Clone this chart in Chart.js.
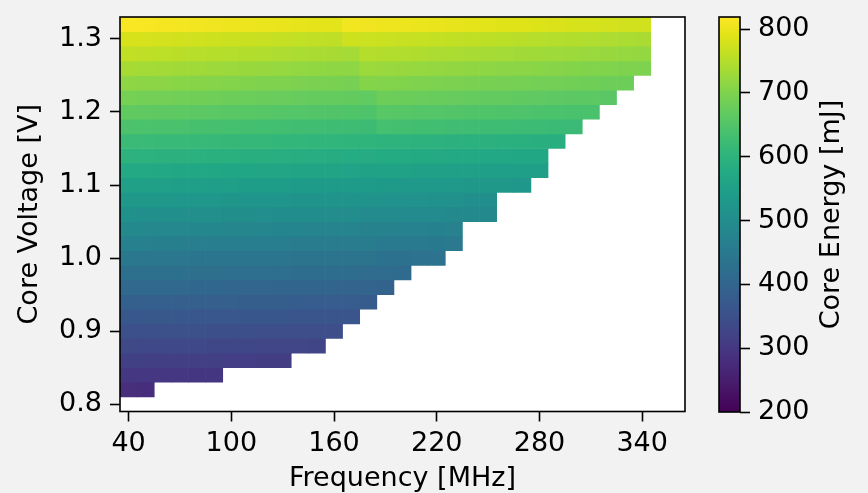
<!doctype html>
<html lang="en">
<head>
  <meta charset="utf-8">
  <title>Core Energy map</title>
  <script src="https://cdn.jsdelivr.net/npm/chart.js@4/dist/chart.umd.min.js"></script>
  <style>
    html, body { margin: 0; padding: 0; overflow: hidden; background: #f2f2f2; }
    #wrap { position: relative; width: 868px; height: 493px; overflow: hidden; }
    #heat { position: absolute; left: 0; top: 0; }
    #cbar { position: absolute; left: 700px; top: 0; }
  </style>
</head>
<body>
<div id="wrap">
  <canvas id="heat" width="700" height="500"></canvas>
  <canvas id="cbar" width="168" height="493"></canvas>
</div>

<script>
  // columns (MHz) and rows (V) of the measurement grid
  const frequencies = [40, 50, 60, 70, 80, 90, 100, 110, 120, 130, 140, 150, 160, 170, 180, 190, 200,
    210, 220, 230, 240, 250, 260, 270, 280, 290, 300, 310, 320, 330, 340, 350, 360]
  const voltages = [0.82, 0.84, 0.86, 0.88, 0.90, 0.92, 0.94, 0.96, 0.98, 1.00, 1.02, 1.04, 1.06,
    1.08, 1.10, 1.12, 1.14, 1.16, 1.18, 1.20, 1.22, 1.24, 1.26, 1.28, 1.30, 1.32]

  // core energy [mJ] per voltage row, starting at 40 MHz (missing = not stable)
  const e082 = [283, 282]
  const e084 = [299, 299, 298, 298, 297, 297]
  const e086 = [316, 316, 315, 315, 314, 314, 313, 313, 312, 312]
  const e088 = [334, 333, 333, 332, 332, 331, 330, 330, 329, 329, 328, 327]
  const e090 = [352, 351, 351, 350, 350, 349, 348, 348, 347, 347, 346, 345, 345]
  const e092 = [370, 369, 369, 368, 367, 367, 366, 365, 364, 364, 363, 362, 362, 361]
  const e094 = [389, 388, 388, 387, 386, 386, 385, 384, 383, 383, 382, 381, 381, 380, 379]
  const e096 = [408, 407, 406, 406, 405, 404, 403, 402, 402, 401, 400, 399, 398, 398, 397, 396]
  const e098 = [428, 427, 426, 426, 425, 424, 423, 422, 422, 421, 420, 419, 418, 418, 417, 416, 415]
  const e100 = [447, 446, 445, 444, 443, 442, 442, 441, 440, 439, 438, 437, 436, 435, 434, 433, 433, 432, 431]
  const e102 = [467, 466, 465, 464, 463, 462, 462, 461, 460, 459, 458, 457, 456, 455, 454, 453, 453, 452, 451, 450]
  const e104 = [488, 487, 486, 485, 484, 483, 482, 481, 480, 479, 478, 477, 476, 475, 474, 473, 472, 471, 470, 469]
  const e106 = [509, 508, 507, 506, 505, 504, 503, 502, 501, 500, 499, 498, 497, 496, 495, 494, 493, 492, 491, 490, 489, 488]
  const e108 = [530, 529, 528, 527, 526, 525, 523, 522, 521, 520, 519, 518, 517, 516, 515, 514, 512, 511, 510, 509, 508, 507]
  const e110 = [552, 551, 550, 549, 548, 547, 545, 544, 543, 542, 541, 540, 539, 538, 537, 536, 534, 533, 532, 531, 530, 529, 528, 527]
  const e112 = [574, 573, 572, 570, 569, 568, 567, 566, 564, 563, 562, 561, 560, 558, 557, 556, 555, 554, 552, 551, 550, 549, 548, 546, 545]
  const e114 = [597, 596, 595, 593, 592, 591, 590, 589, 587, 586, 585, 584, 583, 581, 580, 579, 578, 577, 575, 574, 573, 572, 571, 569, 568]
  const e116 = [620, 619, 617, 616, 615, 614, 612, 611, 610, 608, 607, 606, 604, 603, 602, 601, 599, 598, 597, 595, 594, 593, 591, 590, 589, 588]
  const e118 = [643, 642, 640, 639, 637, 636, 635, 633, 632, 630, 629, 628, 626, 625, 623, 634, 633, 631, 630, 628, 627, 626, 624, 623, 621, 620, 619]
  const e120 = [667, 666, 664, 663, 661, 660, 658, 657, 655, 654, 652, 651, 649, 648, 646, 657, 655, 654, 652, 651, 649, 648, 646, 645, 643, 642, 640, 639]
  const e122 = [690, 688, 687, 685, 684, 682, 680, 679, 677, 676, 674, 672, 671, 669, 668, 680, 678, 677, 675, 674, 672, 670, 669, 667, 666, 664, 662, 661, 659]
  const e124 = [714, 712, 711, 709, 707, 706, 704, 702, 700, 699, 697, 695, 694, 692, 705, 704, 702, 700, 698, 697, 695, 693, 692, 690, 688, 687, 685, 683, 681, 680]
  const e126 = [737, 735, 733, 732, 730, 728, 726, 724, 723, 721, 719, 717, 715, 714, 727, 725, 723, 721, 720, 718, 716, 714, 712, 711, 709, 707, 705, 703, 702, 700, 698]
  const e128 = [760, 758, 756, 754, 752, 750, 749, 747, 745, 743, 741, 739, 737, 735, 749, 748, 746, 744, 742, 740, 738, 736, 734, 732, 730, 729, 727, 725, 723, 721, 719]
  const e130 = [782, 780, 778, 776, 774, 772, 770, 768, 766, 764, 762, 760, 758, 773, 771, 769, 767, 765, 763, 761, 759, 757, 755, 753, 751, 749, 747, 745, 743, 741, 739]
  const e132 = [816, 814, 812, 810, 808, 806, 804, 802, 800, 798, 796, 794, 792, 808, 806, 804, 802, 800, 798, 796, 794, 792, 790, 788, 786, 784, 782, 780, 778, 776, 774]

  const energyRows = [e082, e084, e086, e088, e090, e092, e094, e096, e098, e100, e102, e104, e106,
    e108, e110, e112, e114, e116, e118, e120, e122, e124, e126, e128, e130, e132]

  const xTicks = [40, 100, 160, 220, 280, 340]
  const yTicks = [0.8, 0.9, 1.0, 1.1, 1.2, 1.3]
  const energyTicks = [200, 300, 400, 500, 600, 700, 800]

  const ENERGY_MIN = 200
  const ENERGY_MAX = 819
  const F_STEP = 10
  const V_STEP = 0.02

  const VIRIDIS = ['#440154', '#471365', '#482475', '#463480', '#414487', '#3b528b', '#355f8d',
    '#2f6c8e', '#2a788e', '#25858e', '#21918c', '#1e9c89', '#22a884', '#2fb47c', '#44bf70',
    '#5ec962', '#7ad151', '#9bd93c', '#bddf26', '#dfe318', '#fde725']

  function hexRgb(h) {
    return [parseInt(h.slice(1, 3), 16), parseInt(h.slice(3, 5), 16), parseInt(h.slice(5, 7), 16)]
  }

  function viridis(t) {
    t = Math.min(1, Math.max(0, t))
    const p = t * (VIRIDIS.length - 1)
    const i = Math.min(Math.floor(p), VIRIDIS.length - 2)
    const f = p - i
    const a = hexRgb(VIRIDIS[i]), b = hexRgb(VIRIDIS[i + 1])
    const c = a.map((v, j) => Math.round(v + (b[j] - v) * f))
    return `rgb(${c[0]},${c[1]},${c[2]})`
  }

  // one floating bar per grid cell
  const cells = []
  energyRows.forEach((row, i) => {
    row.forEach((e, k) => {
      cells.push({ x: frequencies[k], y: [voltages[i] - V_STEP / 2, voltages[i] + V_STEP / 2], e })
    })
  })

  Chart.defaults.font.family = "'DejaVu Sans', sans-serif"
  Chart.defaults.font.size = 27
  Chart.defaults.color = '#000'

  const framePlugin = {
    id: 'frame',
    beforeDatasetsDraw(chart, args, opts) {
      if (!opts.fill) return
      const { ctx, chartArea: a } = chart
      ctx.save()
      ctx.fillStyle = opts.fill
      ctx.fillRect(a.left, a.top, a.width, a.height)
      ctx.restore()
    },
    afterDraw(chart) {
      const { ctx, chartArea: a } = chart
      ctx.save()
      ctx.strokeStyle = '#000'
      ctx.lineWidth = 1.6
      ctx.strokeRect(a.left, a.top, a.width, a.height)
      ctx.restore()
    }
  }

  const sideTitlePlugin = {
    id: 'sideTitle',
    afterDraw(chart, args, opts) {
      const { ctx, chartArea: a } = chart
      ctx.save()
      ctx.translate(opts.x, (a.top + a.bottom) / 2)
      ctx.rotate(-Math.PI / 2)
      ctx.font = "27px 'DejaVu Sans', sans-serif"
      ctx.fillStyle = '#000'
      ctx.textAlign = 'center'
      ctx.textBaseline = 'middle'
      ctx.fillText(opts.text, 0, 0)
      ctx.restore()
    }
  }

  const tickGrid = {
    display: true,
    offset: false,
    drawOnChartArea: false,
    drawTicks: true,
    tickLength: 10,
    tickWidth: 1.6,
    tickColor: '#000'
  }

  // keep the plot box where the layout padding puts it
  function noEdgePadding(s) {
    s.paddingTop = 0
    s.paddingBottom = 0
    s.paddingLeft = 0
    s.paddingRight = 0
  }

  new Chart(document.getElementById('heat'), {
    type: 'bar',
    data: {
      datasets: [{
        data: cells,
        backgroundColor: c => c.raw ? viridis((c.raw.e - ENERGY_MIN) / (ENERGY_MAX - ENERGY_MIN)) : 'transparent',
        borderWidth: 0,
        barPercentage: 1,
        categoryPercentage: 1,
        grouped: false
      }]
    },
    options: {
      responsive: false,
      animation: false,
      layout: { padding: { left: 0, top: 17, right: 15, bottom: 0 } },
      plugins: {
        legend: { display: false },
        tooltip: { enabled: false },
        frame: { fill: '#ffffff' }
      },
      scales: {
        x: {
          type: 'linear',
          min: frequencies[0] - F_STEP / 2,
          max: frequencies[frequencies.length - 1] + F_STEP / 2,
          offset: false,
          grid: tickGrid,
          border: { display: false },
          ticks: { padding: 6, autoSkip: false, maxRotation: 0, callback: v => String(v) },
          afterBuildTicks: s => { s.ticks = xTicks.map(v => ({ value: v })) },
          afterFit: s => { s.height = 500 - 411.5; noEdgePadding(s) },
          title: { display: true, text: 'Frequency [MHz]', padding: { top: 0, bottom: 5 } }
        },
        y: {
          type: 'linear',
          min: 0.79,
          max: 1.33,
          beginAtZero: false,
          grid: tickGrid,
          border: { display: false },
          ticks: { padding: 8, callback: v => v.toFixed(1) },
          afterBuildTicks: s => { s.ticks = yTicks.map(v => ({ value: v })) },
          afterFit: s => { s.width = 120; noEdgePadding(s) },
          title: { display: true, text: 'Core Voltage [V]', padding: { top: 14, bottom: 0 } }
        }
      }
    },
    plugins: [framePlugin]
  })

  // colour bar
  new Chart(document.getElementById('cbar'), {
    type: 'bar',
    data: {
      labels: [''],
      datasets: [{
        data: [[ENERGY_MIN, ENERGY_MAX]],
        backgroundColor: c => {
          const chart = c.chart
          if (!chart.chartArea) return VIRIDIS[10]
          const y = chart.scales.y
          const g = chart.ctx.createLinearGradient(0, y.getPixelForValue(ENERGY_MIN), 0, y.getPixelForValue(ENERGY_MAX))
          VIRIDIS.forEach((col, i) => g.addColorStop(i / (VIRIDIS.length - 1), col))
          return g
        },
        borderWidth: 0,
        barPercentage: 1,
        categoryPercentage: 1
      }]
    },
    options: {
      responsive: false,
      animation: false,
      layout: { padding: { left: 19, top: 17, right: 0, bottom: 81 } },
      plugins: {
        legend: { display: false },
        tooltip: { enabled: false },
        frame: { fill: null },
        sideTitle: { text: 'Core Energy [mJ]', x: 132 }
      },
      scales: {
        x: { display: false },
        y: {
          position: 'right',
          min: ENERGY_MIN,
          max: ENERGY_MAX,
          beginAtZero: false,
          grid: tickGrid,
          border: { display: false },
          ticks: { padding: 8 },
          afterBuildTicks: s => { s.ticks = energyTicks.map(v => ({ value: v })) },
          afterFit: s => { s.width = 128; noEdgePadding(s) }
        }
      }
    },
    plugins: [framePlugin, sideTitlePlugin]
  })
</script>
</body>
</html>
